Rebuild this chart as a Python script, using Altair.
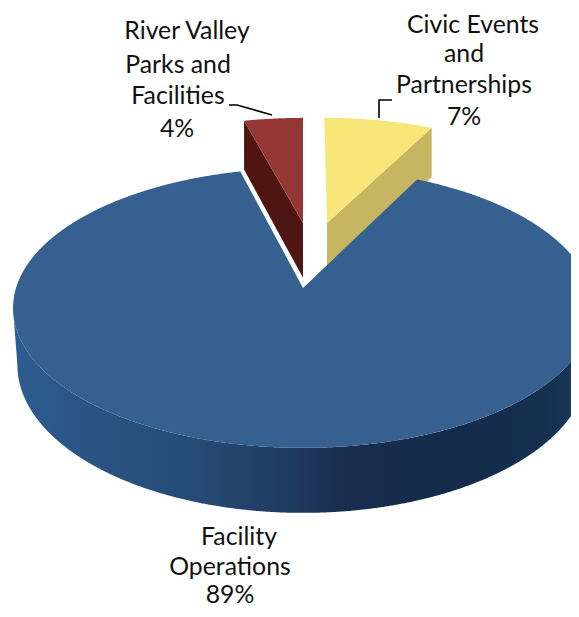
import numpy as np
import pandas as pd
import altair as alt

# Chart values
categories = ["Facility Operations", "River Valley Parks and Facilities", "Civic Events and Partnerships"]
shares = [88.6, 4.0, 7.4]
top_colors = ["#35608F", "#953735", "#F8E678"]
side_colors = ["#1F3A5F", "#4E1512", "#C6B662"]
explode_x = [0.0, 0.0, 0.09]
explode_y = [0.0, 0.51, 0.51]

# Text labels: one row per line
label_text = ["River Valley", "Parks and", "Facilities", "4%",
              "Civic Events", "and", "Partnerships", "7%",
              "Facility", "Operations", "89%"]
label_x = [187, 178, 178, 177, 473, 464, 464, 464, 239, 230, 230]
label_y = [32, 66, 97, 130, 26, 55, 86, 118, 538, 568, 596]

# Leader lines
leader_id = ["a", "a", "a", "b", "b", "b"]
leader_x = [229, 237, 272, 392, 379, 379]
leader_y = [105, 105, 115, 100, 100, 118]

# Side wall shading, left to right
wall_offsets = [0.0, 0.15, 0.32, 0.48, 0.56, 0.75, 0.92, 1.0]
wall_colors = ["#2D5C90", "#2A5282", "#264A74", "#1F3A5F", "#1A2F50", "#142A4B", "#15304F", "#1B3B60"]

# View geometry
CX, CY, RX, RY, PERSP, DEPTH, SLICE_DEPTH, BOTTOM_SCALE = 303.0, 288.0, 287.0, 137.0, 0.143, 55.7, 59.0, 0.985
X_DOMAIN = [8, 571]
Y_DOMAIN = [609, 8]


def project(X, Y):
    w = 1 + PERSP * Y
    return CX + RX * X / w, CY - RY * Y / w, w


def rim(a0, a1, ex=0.0, ey=0.0, n=240):
    t = np.radians(np.linspace(a0, a1, n))
    return project(ex + np.sin(t), ey + np.cos(t))


def envelope(xs, ys):
    """Turn a closed outline into x / y / y2 columns for an area mark."""
    xs, ys = np.asarray(xs, float), np.asarray(ys, float)
    grid = np.unique(np.round(xs, 3))
    x0, y0, x1, y1 = xs, ys, np.roll(xs, -1), np.roll(ys, -1)
    rows = []
    for g in grid:
        hit = []
        for a, b, c, d in zip(x0, y0, x1, y1):
            lo, hi = min(a, c) - 0.0006, max(a, c) + 0.0006
            if lo <= g <= hi:
                if abs(c - a) < 1e-6:
                    hit += [b, d]
                else:
                    hit.append(b + (d - b) * min(max((g - a) / (c - a), 0), 1))
        if hit:
            rows.append((g, min(hit), max(hit)))
    return pd.DataFrame(rows, columns=["x", "y", "y2"])


degrees = [s * 3.6 for s in shares]
red_a0, red_a1 = -degrees[1], 0.0
yel_a0, yel_a1 = 0.0, degrees[2]

x_enc = alt.X("x:Q", scale=alt.Scale(domain=X_DOMAIN, nice=False, zero=False), axis=None)
y_enc = alt.Y("y:Q", scale=alt.Scale(domain=Y_DOMAIN, nice=False, zero=False), axis=None)


def area(df, color):
    return alt.Chart(df).mark_area(color=color, clip=True, line=False, interpolate="linear").encode(
        x=x_enc, y=y_enc, y2="y2:Q")


layers = []

# River Valley slice
ax, ay, aw = project(np.array([explode_x[1]]), np.array([explode_y[1]]))
rx, ry, rw = rim(red_a0, red_a1, explode_x[1], explode_y[1])
side_x = [rx[0], ax[0], ax[0], rx[0]]
side_y = [ry[0], ay[0], ay[0] + SLICE_DEPTH / aw[0], ry[0] + SLICE_DEPTH / rw[0]]
layers.append(area(envelope(side_x, side_y), side_colors[1]))
layers.append(area(envelope(np.r_[rx, ax], np.r_[ry, ay]), top_colors[1]))

# Civic Events slice
ax, ay, aw = project(np.array([explode_x[2]]), np.array([explode_y[2]]))
rx, ry, rw = rim(yel_a0, yel_a1, explode_x[2], explode_y[2])
side_x = [ax[0], rx[-1], rx[-1], ax[0]]
side_y = [ay[0], ry[-1], ry[-1] + SLICE_DEPTH / rw[-1], ay[0] + SLICE_DEPTH / aw[0]]
layers.append(area(envelope(side_x, side_y), side_colors[2]))
layers.append(area(envelope(np.r_[rx, ax], np.r_[ry, ay]), top_colors[2]))

# Facility Operations: wall
ext = np.degrees(np.arccos(-PERSP))
fx, fy, fw = rim(ext, 360 - ext, n=400)
bx = CX + (fx - CX) * BOTTOM_SCALE
by = fy + DEPTH / fw
wall = area(
    envelope(np.r_[fx, bx[::-1]], np.r_[fy, by[::-1]]),
    alt.Gradient(
        gradient="linear",
        stops=[alt.GradientStop(color=c, offset=o) for o, c in zip(wall_offsets, wall_colors)],
        x1=0, x2=1, y1=0, y2=0,
    ),
)
layers.append(wall)

# Facility Operations: top
tx, ty, _ = rim(yel_a1, 360 - degrees[1], n=700)
layers.append(area(envelope(np.r_[tx, CX], np.r_[ty, CY]), top_colors[0]))

# Leaders
leaders = pd.DataFrame({"id": leader_id, "x": leader_x, "y": leader_y, "o": range(len(leader_x))})
layers.append(alt.Chart(leaders).mark_line(color="#000000", strokeWidth=1.6).encode(
    x=x_enc, y=y_enc, detail="id:N", order="o:Q"))

# Labels
labels = pd.DataFrame({"t": label_text, "x": label_x, "y": label_y})
layers.append(alt.Chart(labels).mark_text(
    font="Lato", fontSize=24.8, color="#111111", align="center", baseline="middle"
).encode(x=x_enc, y=y_enc, text="t:N"))

chart = alt.layer(*layers).properties(
    width=X_DOMAIN[1] - X_DOMAIN[0],
    height=Y_DOMAIN[0] - Y_DOMAIN[1],
    padding=0,
    background="white",
    autosize=alt.AutoSizeParams(type="none"),
).configure_view(stroke=None)

chart.save("out.html", embed_options={"renderer": "svg", "actions": False})
